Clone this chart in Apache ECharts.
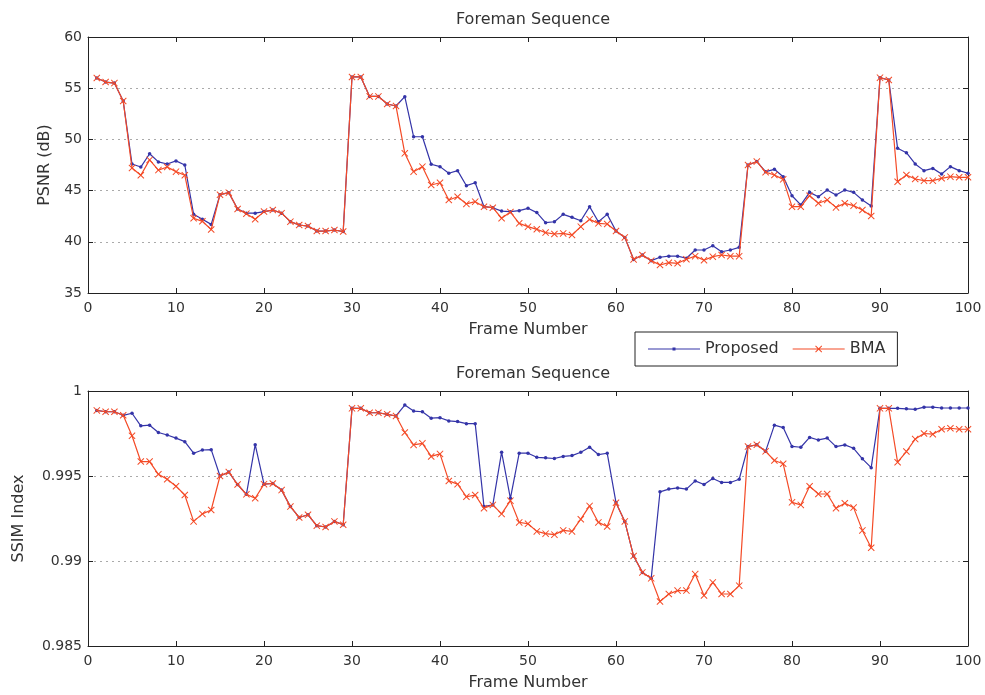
<!DOCTYPE html>
<html><head><meta charset="utf-8">
<script src="https://cdn.jsdelivr.net/npm/echarts@6/dist/echarts.min.js"></script>
<style>html,body{margin:0;padding:0;background:#fff}#c{width:985px;height:695px}</style>
</head><body><div id="c"></div>
<script>
const frames = [1,2,3,4,5,6,7,8,9,10,11,12,13,14,15,16,17,18,19,20,21,22,23,24,25,26,27,28,29,30,31,32,33,34,35,36,37,38,39,40,41,42,43,44,45,46,47,48,49,50,51,52,53,54,55,56,57,58,59,60,61,62,63,64,65,66,67,68,69,70,71,72,73,74,75,76,77,78,79,80,81,82,83,84,85,86,87,88,89,90,91,92,93,94,95,96,97,98,99,100];
const xTicks = [0,10,20,30,40,50,60,70,80,90,100];
const psnrTicks = [35,40,45,50,55,60];
const ssimTicks = [0.985,0.99,0.995,1];

const psnrProposed = [56.0,55.6,55.5,53.75,47.6,47.3,48.6,47.8,47.6,47.9,
47.5,42.7,42.2,41.7,44.6,44.8,43.2,42.8,42.8,42.95,
43.1,42.8,41.97,41.64,41.54,41.05,41.05,41.15,41.0,56.1,
56.1,54.2,54.2,53.46,53.26,54.17,50.26,50.26,47.57,47.34,
46.69,46.95,45.48,45.77,43.43,43.33,43.0,42.94,43.04,43.27,
42.85,41.87,41.96,42.68,42.39,42.06,43.43,41.96,42.68,41.05,
40.43,38.28,38.71,38.16,38.49,38.6,38.6,38.39,39.2,39.2,
39.62,39.03,39.2,39.46,47.5,47.83,46.85,47.08,46.36,44.5,
43.6,44.83,44.4,45.06,44.57,45.06,44.83,44.08,43.5,56.03,
55.8,49.13,48.7,47.6,46.95,47.17,46.62,47.34,46.95,46.69];

const psnrBMA = [56.0,55.6,55.5,53.75,47.2,46.5,48.0,47.0,47.3,46.85,
46.5,42.3,42.0,41.2,44.6,44.8,43.2,42.75,42.2,42.95,
43.1,42.8,41.97,41.64,41.54,41.05,41.05,41.15,41.0,56.1,
56.1,54.2,54.2,53.46,53.26,48.64,46.85,47.34,45.55,45.77,
44.08,44.4,43.7,43.92,43.43,43.33,42.3,42.9,41.8,41.48,
41.22,40.9,40.76,40.82,40.66,41.48,42.19,41.8,41.74,41.05,
40.43,38.28,38.71,38.16,37.73,37.96,37.9,38.3,38.6,38.2,
38.55,38.71,38.6,38.6,47.5,47.83,46.8,46.52,46.1,43.43,
43.43,44.5,43.76,44.08,43.36,43.76,43.53,43.1,42.52,56.03,
55.8,45.87,46.52,46.13,45.97,45.97,46.2,46.36,46.3,46.3];

const ssimProposed = [0.99886,0.99878,0.99878,0.99857,0.99869,0.99795,0.99799,0.99756,0.99741,0.99723,
0.99702,0.99634,0.99653,0.99655,0.995,0.99523,0.9945,0.99392,0.99684,0.99452,
0.99456,0.99417,0.9932,0.99256,0.99272,0.99208,0.992,0.99233,0.99213,0.99898,
0.99898,0.99872,0.99872,0.99863,0.99853,0.99917,0.99882,0.99878,0.9984,0.99843,
0.99824,0.9982,0.99808,0.99808,0.9932,0.9933,0.9964,0.99369,0.99634,0.99634,
0.9961,0.99607,0.99603,0.99615,0.9962,0.9964,0.99669,0.99626,0.99634,0.99343,
0.99233,0.99029,0.98933,0.98898,0.99407,0.99423,0.9943,0.99423,0.99471,0.9945,
0.99485,0.99462,0.99462,0.99481,0.99673,0.99684,0.99645,0.99799,0.99785,0.99674,
0.99669,0.99727,0.99712,0.99723,0.99673,0.99683,0.99663,0.99601,0.99549,0.99898,
0.99898,0.99898,0.99895,0.99892,0.99905,0.99905,0.999,0.999,0.999,0.999];

const ssimBMA = [0.99886,0.99878,0.99878,0.99857,0.99737,0.99585,0.99585,0.9951,0.99481,0.9944,
0.99388,0.99233,0.99277,0.993,0.995,0.99523,0.9945,0.99392,0.99369,0.99452,
0.99456,0.99417,0.9932,0.99256,0.99272,0.99208,0.992,0.99233,0.99213,0.99898,
0.99898,0.99872,0.99872,0.99863,0.99853,0.99756,0.99683,0.99692,0.99615,0.9963,
0.99471,0.99452,0.99378,0.99388,0.9931,0.9933,0.99277,0.99355,0.99227,0.99219,
0.99174,0.99161,0.99155,0.9918,0.99174,0.99246,0.99324,0.99227,0.99203,0.99343,
0.99233,0.99029,0.98933,0.98898,0.98762,0.98806,0.98826,0.98826,0.98923,0.98797,
0.98874,0.98806,0.98806,0.98855,0.99673,0.99684,0.99645,0.99591,0.99572,0.99345,
0.9933,0.9944,0.99394,0.99394,0.9931,0.9934,0.99314,0.9918,0.99078,0.99898,
0.99898,0.99581,0.99644,0.99717,0.9975,0.99746,0.99775,0.99781,0.99775,0.99775];

const FONT = '"DejaVu Sans",sans-serif';
const BLUE = '#3434a8';
const RED = '#f44a26';
const XPATH = 'path://M0,1L1,0L5,4L9,0L10,1L6,5L10,9L9,10L5,6L1,10L0,9L4,5Z';
const ICON_P = 'path://M0,1L52,1L52,2L0,2Z M24.5,0L27.5,0L27.5,3L24.5,3Z';
const ICON_B = 'path://M0,4.6L52,4.6L52,5.4L0,5.4Z M22.5,2.2L23.2,1.5L26,4.3L28.8,1.5L29.5,2.2L26.7,5L29.5,7.8L28.8,8.5L26,5.7L23.2,8.5L22.5,7.8L25.3,5Z';

const pairs = (ys) => frames.map((f, i) => [f, ys[i]]);

const lbl = {fontFamily: FONT, fontSize: 14, color: '#333'};
const nameStyle = {fontFamily: FONT, fontSize: 16, color: '#333'};
function xAx(grid, pos, showLabel) {
  return {
    type: 'value', gridIndex: grid, position: pos, min: xTicks[0], max: xTicks[xTicks.length-1],
    interval: xTicks[1]-xTicks[0],
    axisLine: {show: true, onZero: false, lineStyle: {color: '#222', width: 1}},
    axisTick: {show: true, inside: true, length: 5, lineStyle: {color: '#222'}},
    axisLabel: Object.assign({show: showLabel, margin: 8}, lbl),
    splitLine: {show: false},
    name: showLabel ? 'Frame Number' : '', nameLocation: 'middle', nameGap: 29,
    nameTextStyle: nameStyle
  };
}
function yAx(grid, pos, ticks, showLabel, name, gap) {
  return {
    type: 'value', gridIndex: grid, position: pos, min: ticks[0], max: ticks[ticks.length-1],
    interval: +(ticks[1]-ticks[0]).toFixed(6),
    axisLine: {show: true, onZero: false, lineStyle: {color: '#222', width: 1}},
    axisTick: {show: true, inside: true, length: 5, lineStyle: {color: '#222'}},
    axisLabel: Object.assign({show: showLabel, margin: 6}, lbl),
    splitLine: {show: showLabel, lineStyle: {color: '#aaa', type: [2, 4], width: 1}},
    name: showLabel ? name : '', nameLocation: 'middle', nameGap: gap,
    nameTextStyle: nameStyle
  };
}
function ser(name, data, xi, yi) {
  const isP = name === 'Proposed';
  return {
    name: name, type: 'line', xAxisIndex: xi, yAxisIndex: yi, data: data,
    symbol: isP ? 'circle' : XPATH, symbolSize: isP ? 3.5 : 7,
    showAllSymbol: true, animation: false,
    lineStyle: {color: isP ? BLUE : RED, width: 1.2},
    itemStyle: {color: isP ? BLUE : RED},
    z: isP ? 2 : 3
  };
}

const chart = echarts.init(document.getElementById('c'), null, {renderer: 'canvas'});
chart.setOption({
  backgroundColor: '#fff',
  animation: false,
  title: [
    {text: 'Foreman Sequence', left: 528, top: 7, textAlign: 'center',
     textStyle: {fontFamily: FONT, fontSize: 16, fontWeight: 'normal', color: '#333'}},
    {text: 'Foreman Sequence', left: 528, top: 361, textAlign: 'center',
     textStyle: {fontFamily: FONT, fontSize: 16, fontWeight: 'normal', color: '#333'}}
  ],
  legend: {
    left: 635, top: 332,
    orient: 'horizontal', itemGap: 14, itemWidth: 52, itemHeight: 7,
    symbolKeepAspect: true,
    padding: [9, 12, 9, 13],
    backgroundColor: '#fff', borderColor: '#222', borderWidth: 1,
    textStyle: {fontFamily: FONT, fontSize: 16, color: '#333'},
    data: [{name: 'Proposed', icon: ICON_P}, {name: 'BMA', icon: ICON_B}]
  },
  grid: [
    {left: 88, top: 37, width: 880, height: 256, show: false},
    {left: 88, top: 391, width: 880, height: 255, show: false}
  ],
  xAxis: [xAx(0, 'bottom', true), xAx(0, 'top', false), xAx(1, 'bottom', true), xAx(1, 'top', false)],
  yAxis: [yAx(0, 'left', psnrTicks, true, 'PSNR (dB)', 34), yAx(0, 'right', psnrTicks, false, ''),
          yAx(1, 'left', ssimTicks, true, 'SSIM Index', 61), yAx(1, 'right', ssimTicks, false, '')],
  series: [
    ser('Proposed', pairs(psnrProposed), 0, 0),
    ser('BMA', pairs(psnrBMA), 0, 0),
    ser('Proposed', pairs(ssimProposed), 2, 2),
    ser('BMA', pairs(ssimBMA), 2, 2)
  ]
});
</script></body></html>
